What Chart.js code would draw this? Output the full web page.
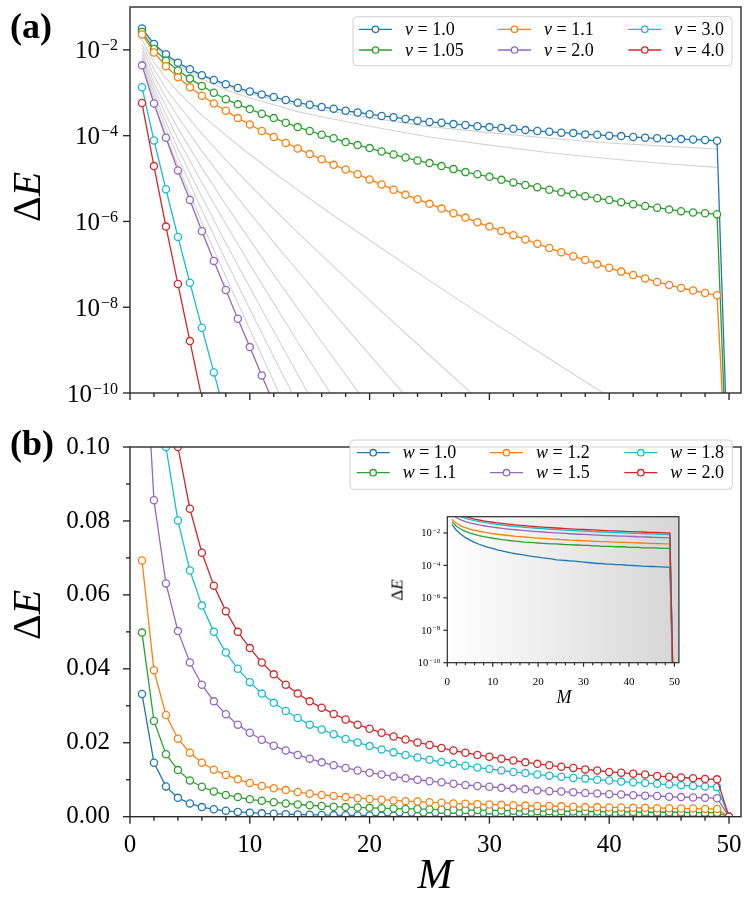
<!DOCTYPE html>
<html>
<head>
<meta charset="utf-8">
<script src="https://cdn.jsdelivr.net/npm/chart.js@4.4.1/dist/chart.umd.min.js"></script>
<style>
  body { margin: 0; background: #fff; }
  #wrap { position: relative; width: 750px; height: 907px; font-family: "Liberation Serif", serif; overflow: hidden; }
  canvas { position: absolute; }
  .t { position: absolute; white-space: nowrap; line-height: 1; color: #000; transform: translate(-50%, -50%); }
  .r { transform: translate(-50%, -50%) rotate(-90deg); }
</style>
</head>
<body>
<div id="wrap">
  <canvas id="chartA" width="750" height="420" style="left:0;top:0"></canvas>
  <canvas id="chartB" width="750" height="487" style="left:0;top:420px"></canvas>
  <canvas id="inset" width="300" height="200" style="left:385px;top:510px"></canvas>

  <div class="t" style="left:31px;top:26px;font-size:36px;font-weight:bold">(a)</div>
  <div class="t" style="left:32px;top:443px;font-size:36px;font-weight:bold">(b)</div>
  <div class="t r" style="left:27px;top:197px;font-size:40px">Δ<i>E</i></div>
  <div class="t r" style="left:27px;top:615px;font-size:40px">Δ<i>E</i></div>
  <div class="t" style="left:435px;top:874px;font-size:42px"><i>M</i></div>
  <div class="t" style="left:564px;top:697px;font-size:18px"><i>M</i></div>
  <div class="t r" style="left:397px;top:590px;font-size:17px">Δ<i>E</i></div>
</div>

<script>
Chart.defaults.font.family = '"Liberation Serif", serif';
Chart.defaults.color = '#000';

// M values (system size)
const M = [1, 2, 3, 4, 5, 6, 7, 8, 9, 10, 11, 12, 13, 14, 15, 16, 17, 18, 19, 20,
           21, 22, 23, 24, 25, 26, 27, 28, 29, 30, 31, 32, 33, 34, 35, 36, 37, 38, 39, 40,
           41, 42, 43, 44, 45, 46, 47, 48, 49, 50];

// ---------- panel (a): log10 of Delta E ----------
const vLabels = ['1.0', '1.05', '1.1', '2.0', '3.0', '4.0'];
const v10Log = [-1.50, -1.86, -2.10, -2.30, -2.45, -2.59, -2.70, -2.80, -2.89, -2.97,
                -3.04, -3.10, -3.17, -3.23, -3.28, -3.33, -3.37, -3.42, -3.46, -3.50,
                -3.54, -3.57, -3.61, -3.65, -3.68, -3.70, -3.73, -3.75, -3.78, -3.80,
                -3.82, -3.84, -3.87, -3.89, -3.91, -3.93, -3.94, -3.97, -3.98, -4.00,
                -4.01, -4.03, -4.05, -4.06, -4.07, -4.08, -4.09, -4.10, -4.12, -12.5];
const v105Log = [-1.58, -1.98, -2.25, -2.48, -2.67, -2.84, -3.00, -3.15, -3.27, -3.38,
                 -3.49, -3.59, -3.70, -3.80, -3.89, -3.98, -4.06, -4.15, -4.22, -4.29,
                 -4.37, -4.44, -4.51, -4.58, -4.64, -4.71, -4.78, -4.85, -4.90, -4.96,
                 -5.03, -5.09, -5.15, -5.20, -5.26, -5.32, -5.36, -5.41, -5.46, -5.50,
                 -5.55, -5.60, -5.64, -5.68, -5.72, -5.76, -5.79, -5.81, -5.83, -13.2];
const v11Log = [-1.64, -2.06, -2.38, -2.64, -2.87, -3.07, -3.25, -3.42, -3.59, -3.74,
                -3.89, -4.03, -4.17, -4.30, -4.43, -4.55, -4.68, -4.79, -4.90, -5.02,
                -5.14, -5.26, -5.38, -5.48, -5.59, -5.70, -5.81, -5.91, -6.02, -6.12,
                -6.22, -6.32, -6.42, -6.52, -6.62, -6.72, -6.81, -6.90, -7.00, -7.08,
                -7.17, -7.25, -7.33, -7.41, -7.48, -7.55, -7.61, -7.67, -7.72, -13.0];
const v20Log = [-2.36, -3.25, -4.05, -4.81, -5.50, -6.23, -6.92, -7.60, -8.27, -8.93, -9.59, -10.25];
const v30Log = [-2.87, -4.11, -5.25, -6.36, -7.43, -8.48, -9.52, -10.56];
const v40Log = [-3.24, -4.71, -6.12, -7.46, -8.79, -10.12];

// thin grey curves (intermediate v), sampled at these M
const greyM = [1, 2, 3, 4, 6, 8, 10, 12, 14, 16, 20, 25, 30, 35, 40, 45, 49];
const grey101Log = [-1.51, -1.87, -2.12, -2.32, -2.62, -2.84, -3.02, -3.15, -3.29, -3.40, -3.58, -3.79, -3.93, -4.06, -4.17, -4.25, -4.31];
const grey102Log = [-1.53, -1.90, -2.15, -2.36, -2.68, -2.93, -3.12, -3.28, -3.44, -3.56, -3.78, -4.03, -4.22, -4.40, -4.54, -4.66, -4.74];
const grey12Log = [-1.76, -2.29, -2.66, -2.98, -3.52, -3.99, -4.44, -4.86, -5.27, -5.67, -6.44, -7.38, -8.30, -9.20, -10.09];
const grey13Log = [-1.86, -2.45, -2.90, -3.28, -3.96, -4.57, -5.15, -5.71, -6.26, -6.79, -7.84, -9.12, -10.38];
const grey14Log = [-1.95, -2.61, -3.11, -3.56, -4.36, -5.10, -5.80, -6.49, -7.15, -7.81, -9.11, -10.70];
const grey15Log = [-2.04, -2.76, -3.32, -3.83, -4.75, -5.61, -6.43, -7.24, -8.03, -8.81, -10.34];
const grey16Log = [-2.12, -2.89, -3.51, -4.07, -5.10, -6.06, -7.00, -7.91, -8.81, -9.69, -11.44];
const grey17Log = [-2.19, -3.01, -3.69, -4.30, -5.43, -6.51, -7.54, -8.56, -9.57, -10.56];
const grey18Log = [-2.25, -3.12, -3.84, -4.50, -5.74, -6.91, -8.04, -9.16, -10.26];
const grey19Log = [-2.31, -3.23, -4.00, -4.70, -6.03, -7.29, -8.52, -9.73, -10.93];

// ---------- panel (b): Delta E ----------
const wLabels = ['1.0', '1.1', '1.2', '1.5', '1.8', '2.0'];
const w10 = [0.0332, 0.0146, 0.0082, 0.0051, 0.0036, 0.0026, 0.0020, 0.0016, 0.0013, 0.0011,
             0.00091, 0.00079, 0.00068, 0.00059, 0.00052, 0.00047, 0.00043, 0.00038, 0.00035, 0.00032,
             0.00029, 0.00027, 0.00025, 0.00022, 0.00021, 0.00020, 0.00019, 0.00018, 0.00017, 0.00016,
             0.00015, 0.00014, 0.00013, 0.00013, 0.00012, 0.00012, 0.00011, 0.00011, 0.000105, 0.00010,
             0.000098, 0.000093, 0.000089, 0.000087, 0.000085, 0.000083, 0.000081, 0.000079, 0.000076, 0];
const w11 = [0.0498, 0.0259, 0.0169, 0.0126, 0.0098, 0.0081, 0.0068, 0.0059, 0.0053, 0.0047,
             0.0043, 0.0039, 0.0036, 0.0033, 0.0031, 0.0029, 0.0027, 0.0026, 0.0025, 0.0024,
             0.0023, 0.0022, 0.0021, 0.0021, 0.0020, 0.0019, 0.0019, 0.0018, 0.0018, 0.0017,
             0.0017, 0.0016, 0.0016, 0.0015, 0.0015, 0.0015, 0.0014, 0.0014, 0.0014, 0.0013,
             0.0013, 0.0013, 0.0012, 0.0012, 0.0012, 0.0012, 0.0011, 0.0011, 0.0011, 0];
const w12 = [0.0693, 0.0396, 0.0275, 0.0211, 0.0173, 0.0146, 0.0127, 0.0113, 0.0101, 0.0091,
             0.0083, 0.0077, 0.0072, 0.0067, 0.0062, 0.0059, 0.0056, 0.0053, 0.0050, 0.0048,
             0.0046, 0.0044, 0.0042, 0.0041, 0.0039, 0.0038, 0.0036, 0.0035, 0.0034, 0.0033,
             0.0032, 0.0031, 0.0030, 0.0029, 0.0029, 0.0028, 0.0027, 0.0026, 0.0026, 0.0025,
             0.0025, 0.0024, 0.0024, 0.0023, 0.0023, 0.0022, 0.0022, 0.0021, 0.0021, 0];
const w15 = [0.143, 0.0856, 0.0631, 0.0502, 0.0417, 0.0357, 0.0312, 0.0277, 0.0249, 0.0227,
             0.0208, 0.0192, 0.0179, 0.0167, 0.0157, 0.0147, 0.0139, 0.0132, 0.0125, 0.0119,
             0.0114, 0.0109, 0.0104, 0.0100, 0.0096, 0.0093, 0.0089, 0.0086, 0.0083, 0.0081,
             0.0078, 0.0076, 0.0074, 0.0071, 0.0069, 0.0068, 0.0066, 0.0064, 0.0063, 0.0061,
             0.0060, 0.0058, 0.0057, 0.0056, 0.0054, 0.0053, 0.0052, 0.0051, 0.0050, 0];
const w18 = [0.200, 0.133, 0.100, 0.0801, 0.0666, 0.0571, 0.0500, 0.0444, 0.0400, 0.0364,
             0.0333, 0.0308, 0.0286, 0.0267, 0.0249, 0.0236, 0.0223, 0.0210, 0.0201, 0.0191,
             0.0182, 0.0174, 0.0167, 0.0160, 0.0154, 0.0148, 0.0143, 0.0138, 0.0133, 0.0129,
             0.0125, 0.0121, 0.0118, 0.0114, 0.0111, 0.0108, 0.0105, 0.0103, 0.0100, 0.0098,
             0.0095, 0.0093, 0.0091, 0.0089, 0.0087, 0.0085, 0.0083, 0.0082, 0.0080, 0];
const w20 = [0.250, 0.167, 0.125, 0.100, 0.0833, 0.0714, 0.0625, 0.0556, 0.0500, 0.0456,
             0.0417, 0.0385, 0.0357, 0.0333, 0.0312, 0.0295, 0.0278, 0.0263, 0.0249, 0.0238,
             0.0227, 0.0217, 0.0209, 0.0201, 0.0194, 0.0186, 0.0179, 0.0173, 0.0167, 0.0162,
             0.0157, 0.0152, 0.0147, 0.0143, 0.0139, 0.0135, 0.0132, 0.0128, 0.0125, 0.0121,
             0.0119, 0.0116, 0.0114, 0.0110, 0.0108, 0.0106, 0.0104, 0.0102, 0.0101, 0];
// zero values cannot sit on a log axis: the inset clips them to this floor
const insetFloor = 1e-15;

const xTicks = [0, 10, 20, 30, 40, 50];
const xMinor = [2, 4, 6, 8, 12, 14, 16, 18, 22, 24, 26, 28, 32, 34, 36, 38, 42, 44, 46, 48];
const logTicks = [-10, -8, -6, -4, -2];
const linTicks = [0, 0.02, 0.04, 0.06, 0.08, 0.10];
const linMinor = [0.01, 0.03, 0.05, 0.07, 0.09];

const colors = ['#1f77b4', '#2ca02c', '#ff7f0e', '#9467bd', '#17becf', '#d62728'];

// frame: 4 spines, outward ticks, and optional 10^x labels on y
function framePlugin(o) {
  return {
    id: 'frame',
    afterDatasetsDraw(chart) {
      const { ctx, chartArea: a, scales: { x, y } } = chart;
      ctx.save();
      ctx.strokeStyle = '#2b2b2b';
      ctx.lineWidth = o.lw;
      ctx.strokeRect(a.left, a.top, a.right - a.left, a.bottom - a.top);
      const tick = (px, py, dx, dy) => { ctx.beginPath(); ctx.moveTo(px, py); ctx.lineTo(px + dx, py + dy); ctx.stroke(); };
      o.xMajor.forEach(v => tick(x.getPixelForValue(v), a.bottom, 0, o.major));
      o.xMinor.forEach(v => tick(x.getPixelForValue(v), a.bottom, 0, o.minor));
      o.yMajor.forEach(v => tick(a.left, y.getPixelForValue(v), -o.major, 0));
      (o.yMinor || []).forEach(v => tick(a.left, y.getPixelForValue(v), -o.minor, 0));
      if (o.pow) {
        ctx.fillStyle = '#000';
        ctx.textAlign = 'left';
        ctx.textBaseline = 'alphabetic';
        o.pow.forEach(e => {
          const py = y.getPixelForValue(Math.pow(10, e));
          const ex = '\u2212' + Math.abs(e);
          ctx.font = o.base + 'px "Liberation Serif"';
          const wb = ctx.measureText('10').width;
          ctx.font = o.sup + 'px "Liberation Serif"';
          const we = ctx.measureText(ex).width;
          const x0 = a.left - o.gap - we - wb - 1;
          ctx.font = o.base + 'px "Liberation Serif"';
          ctx.fillText('10', x0, py + o.base * 0.34);
          ctx.font = o.sup + 'px "Liberation Serif"';
          ctx.fillText(ex, x0 + wb + 1, py + o.base * 0.02);
        });
      }
      ctx.restore();
    }
  };
}

// boxed legend inside the axes, filled column by column (2 rows)
function legendPlugin(o) {
  return {
    id: 'boxLegend',
    afterDraw(chart) {
      const ctx = chart.ctx;
      ctx.save();
      ctx.beginPath();
      ctx.roundRect(o.x, o.y, o.w, o.h, 4);
      ctx.fillStyle = 'rgba(255,255,255,0.85)';
      ctx.fill();
      ctx.strokeStyle = '#d0d0d0';
      ctx.lineWidth = 1;
      ctx.stroke();
      chart.data.datasets.filter(d => d.key).forEach((d, i) => {
        const cx = o.cols[Math.floor(i / 2)], cy = o.rows[i % 2];
        ctx.strokeStyle = d.borderColor;
        ctx.lineWidth = 1.3;
        ctx.beginPath(); ctx.moveTo(cx, cy); ctx.lineTo(cx + 33, cy); ctx.stroke();
        ctx.beginPath(); ctx.arc(cx + 16.5, cy, 3.2, 0, Math.PI * 2);
        ctx.fillStyle = '#fff'; ctx.fill(); ctx.stroke();
        ctx.fillStyle = '#000';
        ctx.textBaseline = 'middle';
        ctx.font = 'italic 18px "Liberation Serif"';
        ctx.fillText(o.sym, cx + 46, cy + 1);
        const w = ctx.measureText(o.sym).width;
        ctx.font = '18px "Liberation Serif"';
        ctx.fillText(' = ' + d.key, cx + 46 + w, cy + 1);
      });
      ctx.restore();
    }
  };
}

const shadePlugin = {
  id: 'shade',
  beforeDatasetsDraw(chart) {
    const { ctx, chartArea: a } = chart;
    const g = ctx.createLinearGradient(a.left, 0, a.right, 0);
    g.addColorStop(0, '#ffffff');
    g.addColorStop(1, '#d6d6d6');
    ctx.save();
    ctx.fillStyle = g;
    ctx.fillRect(a.left, a.top, a.right - a.left, a.bottom - a.top);
    ctx.restore();
  }
};

function markerSet(key, color, data, order) {
  return {
    key: key, data: data, borderColor: color, borderWidth: 1.3,
    pointRadius: 3.6, pointBorderWidth: 1.3, pointBackgroundColor: '#fff', pointBorderColor: color,
    order: order
  };
}

// ---------- chart (a) ----------
const greyLogs = [grey101Log, grey102Log, grey12Log, grey13Log, grey14Log, grey15Log, grey16Log, grey17Log, grey18Log, grey19Log];
const vLogs = [v10Log, v105Log, v11Log, v20Log, v30Log, v40Log];
const dsA = greyLogs.map(l => ({
  data: l.map((e, i) => ({ x: greyM[i], y: Math.pow(10, e) })),
  borderColor: '#d3d3d3', borderWidth: 1.1, pointRadius: 0, order: 20
})).concat(vLogs.map((l, k) => markerSet(vLabels[k], colors[k],
  l.map((e, i) => ({ x: M[i], y: Math.pow(10, e) })), 6 - k)));

new Chart(document.getElementById('chartA'), {
  type: 'line',
  data: { datasets: dsA },
  options: {
    responsive: false, animation: false,
    layout: { padding: { top: 7, right: 9, left: 0, bottom: 0 } },
    plugins: { legend: { display: false }, tooltip: { enabled: false } },
    scales: {
      x: { type: 'linear', min: 0, max: 51, grid: { display: false }, border: { display: false },
           ticks: { display: false }, afterBuildTicks: s => { s.ticks = xTicks.map(v => ({ value: v })); },
           afterFit: s => { s.height = 27; } },
      y: { type: 'logarithmic', min: 1e-10, max: 1e-1, grid: { display: false }, border: { display: false },
           ticks: { display: false }, afterBuildTicks: s => { s.ticks = logTicks.map(e => ({ value: Math.pow(10, e) })); },
           afterFit: s => { s.width = 130; } }
    }
  },
  plugins: [
    framePlugin({ lw: 1.4, major: 7, minor: 4, xMajor: xTicks, xMinor: xMinor,
                  yMajor: logTicks.map(e => Math.pow(10, e)), pow: logTicks, base: 25, sup: 16, gap: 12 }),
    legendPlugin({ x: 353, y: 16.7, w: 379, h: 49, cols: [359, 498, 628.3], rows: [29.3, 50], sym: 'v' })
  ]
});

// ---------- chart (b) ----------
const wSeries = [w10, w11, w12, w15, w18, w20];
const dsB = wSeries.map((s, k) => markerSet(wLabels[k], colors[k], s.map((v, i) => ({ x: M[i], y: v })), 6 - k));

new Chart(document.getElementById('chartB'), {
  type: 'line',
  data: { datasets: dsB },
  options: {
    responsive: false, animation: false,
    layout: { padding: { top: 11.7, right: 9, left: 0, bottom: 0 } },
    plugins: { legend: { display: false }, tooltip: { enabled: false } },
    scales: {
      x: { type: 'linear', min: 0, max: 51, grid: { display: false }, border: { display: false },
           ticks: { font: { size: 25 }, padding: 6, maxRotation: 0 },
           afterBuildTicks: s => { s.ticks = xTicks.map(v => ({ value: v })); },
           afterFit: s => { s.height = 90.3; } },
      y: { type: 'linear', min: 0, max: 0.1, grid: { display: false }, border: { display: false },
           ticks: { font: { size: 25 }, padding: 12, callback: v => Number(v).toFixed(2) },
           afterBuildTicks: s => { s.ticks = linTicks.map(v => ({ value: v })); },
           afterFit: s => { s.width = 130; } }
    }
  },
  plugins: [
    framePlugin({ lw: 1.4, major: 7, minor: 4, xMajor: xTicks, xMinor: xMinor, yMajor: linTicks, yMinor: linMinor }),
    legendPlugin({ x: 350, y: 20, w: 382.3, h: 49.3, cols: [356.7, 490, 624.3], rows: [32.7, 52.7], sym: 'w' })
  ]
});

// ---------- inset (b data on log scale) ----------
const dsI = wSeries.map((s, k) => ({
  data: s.map((v, i) => ({ x: M[i], y: v > 0 ? v : insetFloor })), borderColor: colors[k], borderWidth: 1.3,
  pointRadius: 0, order: 6 - k
}));

new Chart(document.getElementById('inset'), {
  type: 'line',
  data: { datasets: dsI },
  options: {
    responsive: false, animation: false,
    layout: { padding: { top: 6.7, right: 5.7, left: 0, bottom: 0 } },
    plugins: { legend: { display: false }, tooltip: { enabled: false } },
    scales: {
      x: { type: 'linear', min: 0, max: 51, grid: { display: false }, border: { display: false },
           ticks: { font: { size: 11 }, padding: 5, maxRotation: 0 },
           afterBuildTicks: s => { s.ticks = xTicks.map(v => ({ value: v })); },
           afterFit: s => { s.height = 47.3; } },
      y: { type: 'logarithmic', min: 1e-10, max: 1e-1, grid: { display: false }, border: { display: false },
           ticks: { display: false },
           afterBuildTicks: s => { s.ticks = logTicks.map(e => ({ value: Math.pow(10, e) })); },
           afterFit: s => { s.width = 62.3; } }
    }
  },
  plugins: [
    shadePlugin,
    framePlugin({ lw: 1.2, major: 4, minor: 2.5, xMajor: xTicks, xMinor: xMinor,
                  yMajor: logTicks.map(e => Math.pow(10, e)), pow: logTicks, base: 10.5, sup: 7, gap: 7 })
  ]
});
</script>
</body>
</html>
